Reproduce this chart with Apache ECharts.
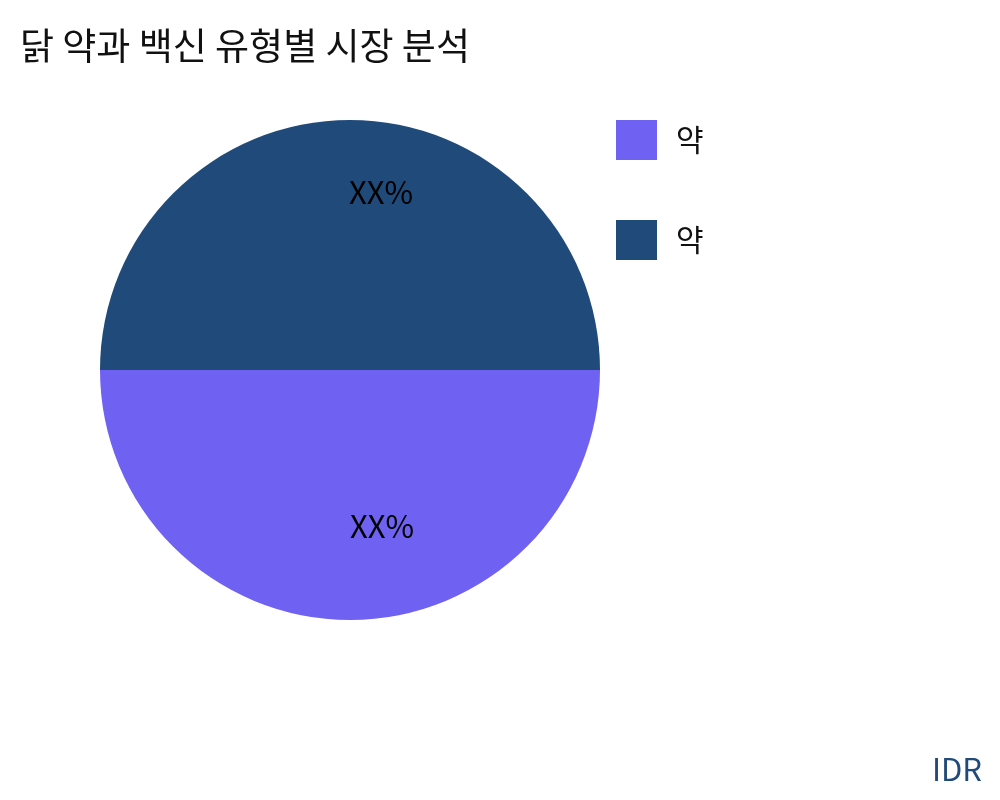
<!DOCTYPE html>
<html>
<head>
<meta charset="utf-8">
<script src="https://cdn.jsdelivr.net/npm/echarts@6/dist/echarts.min.js"></script>
<style>
html,body{margin:0;padding:0;background:#fff;}
#chart{width:1000px;height:800px;}
</style>
</head>
<body>
<div id="chart"></div>
<script>
const titleText = '닭 약과 백신 유형별 시장 분석';
const sourceText = 'IDR';
const categories = ['약', '약'];
const values = [50, 50];
const sliceLabels = ['XX%', 'XX%'];
const colors = ['#6F61F2', '#1F4A7A'];

const FONT = '"Noto Sans CJK KR", "Noto Sans", sans-serif';
const labelOffsets = [[32, 28], [31, -50]];

const data = categories.map((c, i) => ({
  name: c + '|' + i,
  value: values[i],
  itemStyle: { color: colors[i] },
  label: { offset: labelOffsets[i] }
}));

const chart = echarts.init(document.getElementById('chart'));
chart.setOption({
  animation: false,
  title: [
    { text: titleText, left: 15, top: 22,
      textStyle: { fontFamily: FONT, fontSize: 37, fontWeight: 'normal', color: '#111' } },
    { text: sourceText, right: 13, bottom: 10,
      textStyle: { fontFamily: FONT, fontSize: 31, fontWeight: 'normal', color: '#1F4A7A' } }
  ],
  legend: {
    orient: 'vertical',
    left: 611, top: 115,
    itemWidth: 41, itemHeight: 40, itemGap: 60,
    icon: 'rect',
    formatter: n => n.split('|')[0],
    textStyle: { fontFamily: FONT, fontSize: 30, color: '#111', padding: [0, 0, 0, 14] }
  },
  series: [{
    type: 'pie',
    center: [350, 370],
    radius: 250,
    startAngle: 0,
    clockwise: true,
    data: data,
    label: {
      position: 'inside',
      formatter: p => sliceLabels[p.dataIndex],
      fontFamily: FONT, fontSize: 31, color: '#000'
    },
    labelLine: { show: false },
    emphasis: { disabled: true }
  }]
});
</script>
</body>
</html>
